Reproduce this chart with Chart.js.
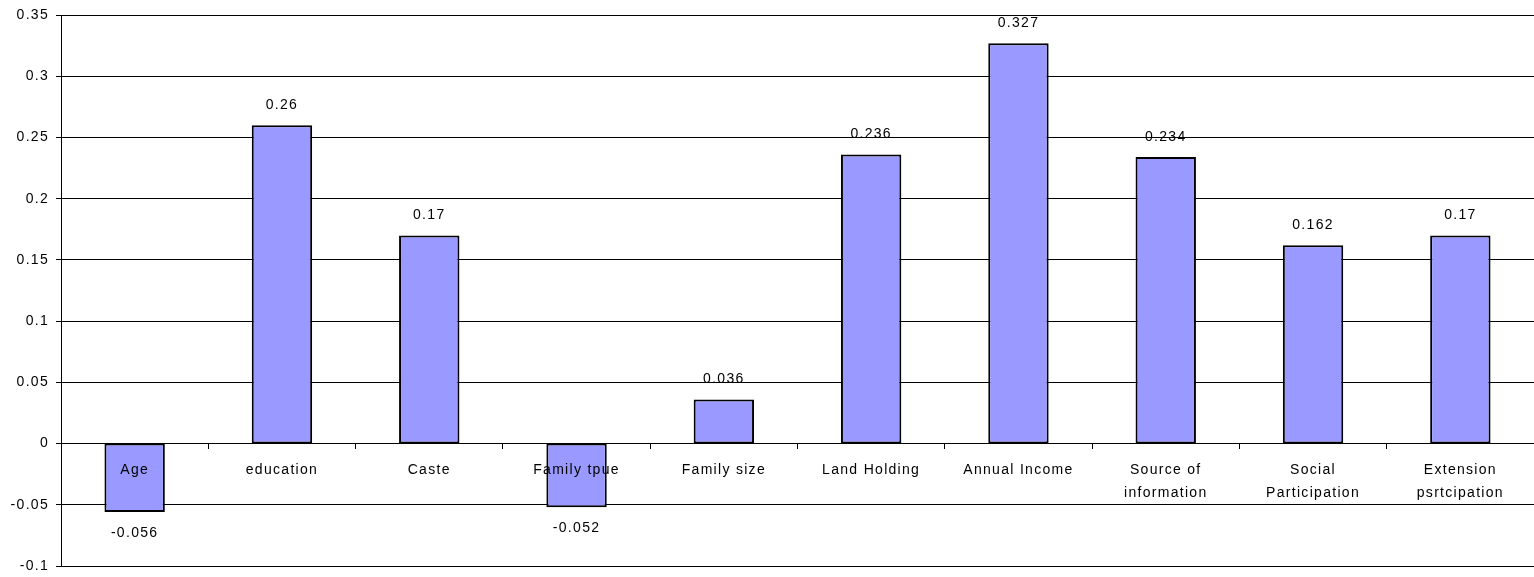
<!DOCTYPE html>
<html lang="en">
<head>
    <meta charset="UTF-8">
    <script src="https://cdn.jsdelivr.net/npm/chart.js"></script>
    <style>
        body { margin: 0; padding: 0; background: #fff; }
        .chart-container { position: relative; width: 1534px; height: 577px; }
    </style>
</head>
<body>
    <div class="chart-container">
        <canvas id="myChart"></canvas>
    </div>

    <script>
        // categories (multi-line ones are arrays)
        const categories = [
            'Age', 'education', 'Caste', 'Family tpue', 'Family size',
            'Land Holding', 'Annual Income', ['Source of', 'information'],
            ['Social', 'Participation'], ['Extension', 'psrtcipation']
        ];
        const values = [-0.056, 0.26, 0.17, -0.052, 0.036, 0.236, 0.327, 0.234, 0.162, 0.17];
        const valueLabels = ['-0.056', '0.26', '0.17', '-0.052', '0.036', '0.236', '0.327', '0.234', '0.162', '0.17'];

        const yMin = -0.1, yMax = 0.35, yStep = 0.05;
        const font = 'Liberation Sans, Arial, sans-serif';
        const spacing = '1.3px';

        // slightly wider letter spacing for all chart text
        const spacingPlugin = {
            id: 'spacing',
            beforeLayout(chart) { chart.ctx.letterSpacing = spacing; },
            beforeDraw(chart) { chart.ctx.letterSpacing = spacing; }
        };

        // writes the value above (or below, for negatives) each bar
        const valueLabelPlugin = {
            id: 'valueLabels',
            afterDraw(chart) {
                const ctx = chart.ctx;
                const meta = chart.getDatasetMeta(0);
                ctx.save();
                ctx.font = '14px ' + font;
                ctx.fillStyle = '#000';
                ctx.textAlign = 'center';
                ctx.textBaseline = 'middle';
                meta.data.forEach((bar, i) => {
                    const off = values[i] < 0 ? 21 : -20;
                    ctx.fillText(valueLabels[i], bar.x, bar.y + off);
                });
                ctx.restore();
            }
        };

        const ctx = document.getElementById('myChart').getContext('2d');
        new Chart(ctx, {
            type: 'bar',
            data: {
                labels: categories,
                datasets: [{
                    data: values,
                    backgroundColor: '#9999FF',
                    borderColor: '#000',
                    borderWidth: 2,
                    borderSkipped: false,
                    categoryPercentage: 1,
                    barPercentage: 0.41
                }]
            },
            options: {
                responsive: true,
                maintainAspectRatio: false,
                animation: false,
                layout: { padding: { top: 15, bottom: 11, left: 0, right: 0 } },
                plugins: {
                    legend: { display: false },
                    tooltip: { enabled: false }
                },
                scales: {
                    x: {
                        position: { y: 0 },
                        grid: {
                            drawOnChartArea: false,
                            drawTicks: true,
                            tickLength: 5,
                            color: '#000'
                        },
                        border: { display: true, color: '#000', width: 1 },
                        ticks: {
                            z: 1,
                            color: '#000',
                            padding: 10,
                            maxRotation: 0,
                            autoSkip: false,
                            font: { family: font, size: 14, lineHeight: 1.64 }
                        }
                    },
                    y: {
                        min: yMin,
                        max: yMax,
                        afterFit(scale) {
                            scale.width = 61;
                            scale.paddingTop = 0;
                            scale.paddingBottom = 0;
                        },
                        grid: { color: '#000', lineWidth: 1, tickLength: 5 },
                        border: { display: true, color: '#000', width: 1 },
                        ticks: {
                            stepSize: yStep,
                            color: '#000',
                            padding: 7,
                            font: { family: font, size: 14 },
                            callback: v => String(Number(v.toFixed(2)))
                        }
                    }
                }
            },
            plugins: [spacingPlugin, valueLabelPlugin]
        });
    </script>
</body>
</html>
